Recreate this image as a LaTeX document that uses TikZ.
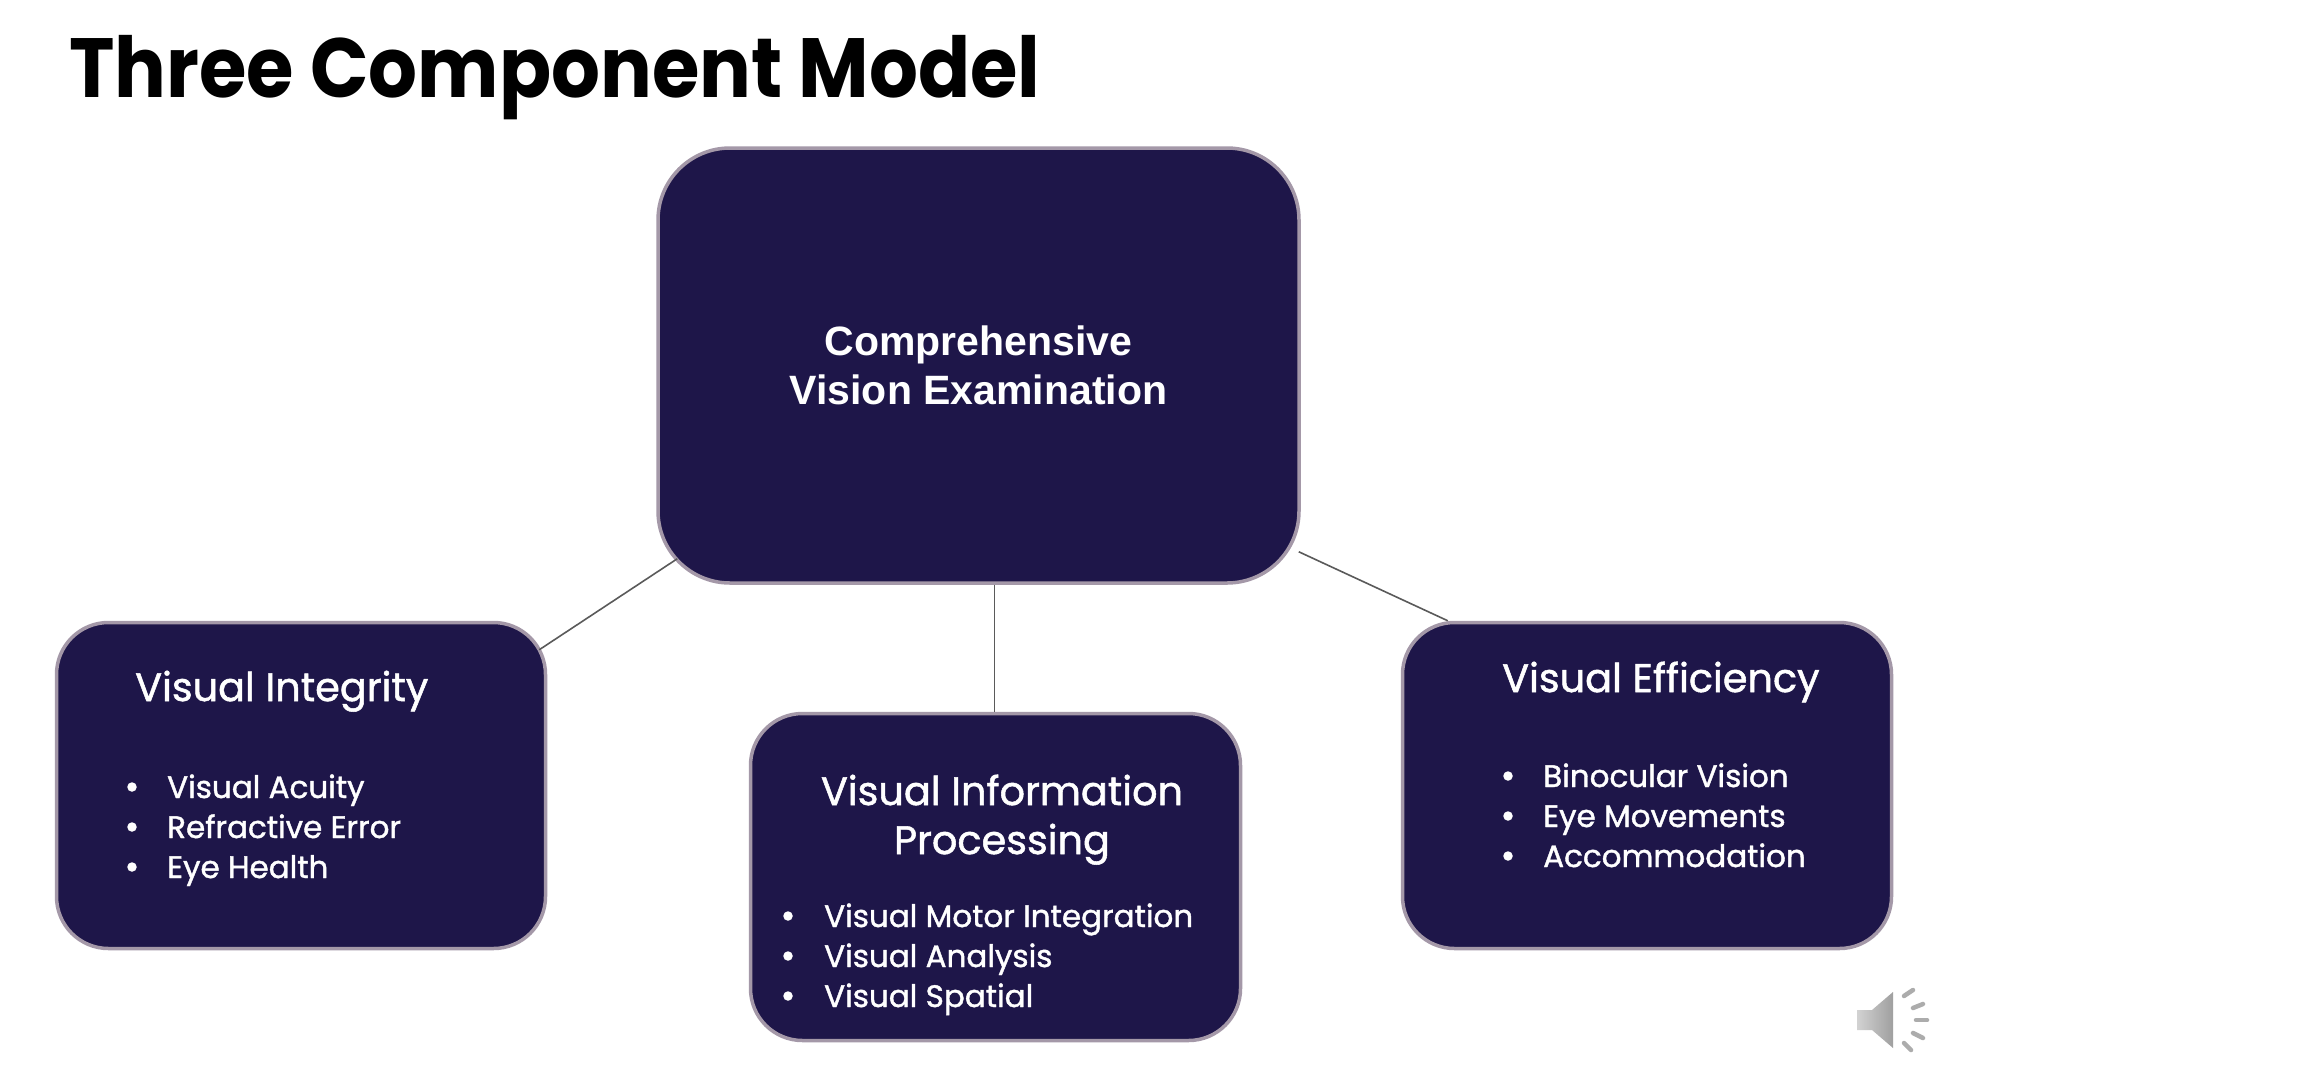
\documentclass[tikz,border=0pt]{standalone}
\usepackage{fontspec}
\setmainfont{Poppins}[FakeBold=1.3]
\newfontfamily\titlef{Poppins}[FakeStretch=0.915]
\newfontfamily\arialf{Liberation Sans}
\usetikzlibrary{calc,shadings}
\definecolor{navy}{HTML}{1E1649}
\definecolor{edge}{HTML}{A498A8}
\definecolor{linec}{HTML}{5A5A5A}
\tikzset{
 x=1pt,y=-1pt,
 box/.style={draw=edge,line width=3.5pt,fill=navy,rounded corners=52pt,minimum width=#1,inner sep=0pt},
 head/.style={text=white,inner sep=0pt,anchor=base,font=\fontsize{39.8}{40}\selectfont},
 item/.style={text=white,inner sep=0pt,anchor=base west,font=\fontsize{31}{31}\selectfont},
 bul/.style={circle,fill=white,inner sep=0pt,minimum size=9.5pt},
 main/.style={text=white,inner sep=0pt,anchor=base,font=\arialf\bfseries\fontsize{41}{41}\selectfont},
 conn/.style={draw=linec,line width=1.6pt},
 tick/.style={draw=gray!65,line width=4.5pt,line cap=round}
}
\begin{document}
\begin{tikzpicture}
\useasboundingbox (0,0) rectangle (2300,1080);
\fill[white] (0,0) rectangle (2300,1080);
\node[inner sep=0pt,anchor=base west,font=\titlef\bfseries\fontsize{84}{84}\selectfont] (title) at (69,97) {Three Component Model};

\node[box=641pt,minimum height=435pt,rounded corners=72pt] (mainbox) at (978.5,365.5) {};
\node[box=489pt,minimum height=326pt] (leftbox) at (301,785.5) {};
\node[box=490pt,minimum height=327pt] (midbox) at (995.5,877) {};
\node[box=489pt,minimum height=326pt] (rightbox) at (1647,785.5) {};

\coordinate (ml) at ($(mainbox.south west)+(21,-26)$);
\coordinate (lm) at ($(leftbox.north east)+(-8,29)$);
\coordinate (mm) at ($(mainbox.south)+(16,0)$);
\coordinate (mi) at (midbox.north -| mm);
\coordinate (mr) at ($(mainbox.south east)+(-2,-33)$);
\coordinate (rm) at ($(rightbox.north west)+(47,0)$);
\draw[conn] (ml) -- (lm);
\draw[conn] (mm) -- (mi);
\draw[conn] (mr) -- (rm);

\node[main] (m1) at (978.5,355) {Comprehensive};
\node[main] (m2) at (978.5,404) {Vision Examination};

\node[head,anchor=base west] (l0) at (135,701) {Visual Integrity};
\node[bul] (lb1) at (132,787) {};
\node[item] (l1) at (167,798) {Visual Acuity};
\node[bul] (lb2) at (132,827) {};
\node[item] (l2) at (167,838) {Refractive Error};
\node[bul] (lb3) at (132,867) {};
\node[item] (l3) at (167,878) {Eye Health};

\node[head] (c0) at (1002,805) {Visual Information};
\node[head] (c00) at (1002,854) {Processing};
\node[bul] (cb1) at (788,916) {};
\node[item] (c1) at (824,927) {Visual Motor Integration};
\node[bul] (cb2) at (788,956) {};
\node[item] (c2) at (824,967) {Visual Analysis};
\node[bul] (cb3) at (788,996) {};
\node[item] (c3) at (824,1007) {Visual Spatial};

\node[head,anchor=base west] (r0) at (1502,692) {Visual Efficiency};
\node[bul] (rb1) at (1508,776) {};
\node[item] (r1) at (1543,787) {Binocular Vision};
\node[bul] (rb2) at (1508,816) {};
\node[item] (r2) at (1543,827) {Eye Movements};
\node[bul] (rb3) at (1508,856) {};
\node[item] (r3) at (1543,867) {Accommodation};

% speaker icon
\shade[left color=gray!35,right color=gray!75] (1857,1010) -- (1872,1010) -- (1893,992) -- (1893,1048) -- (1872,1030) -- (1857,1030) -- cycle;
\draw[tick] (1904,996) -- (1913,990);
\draw[tick] (1913,1008) -- (1923,1004);
\draw[tick] (1916,1020) -- (1927,1020);
\draw[tick] (1913,1033) -- (1923,1038);
\draw[tick] (1904,1043) -- (1911,1050);
\end{tikzpicture}
\end{document}
